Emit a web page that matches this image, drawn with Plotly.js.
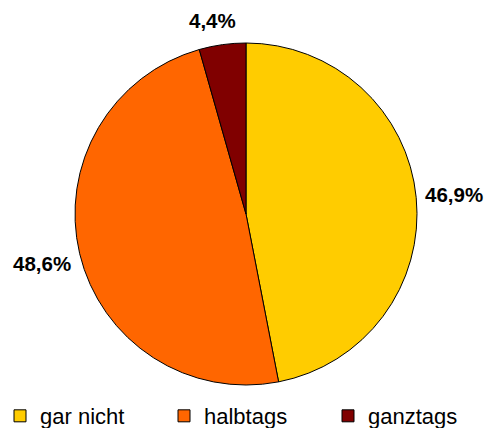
<!DOCTYPE html>
<html>
<head>
<meta charset="utf-8">
<script src="https://cdn.plot.ly/plotly-3.0.1.min.js"></script>
<style>html,body{margin:0;padding:0;background:#fff;}#chart{width:490px;height:428px;}</style>
</head>
<body>
<div id="chart"></div>
<script>
var categories = ["gar nicht", "halbtags", "ganztags"];
var values = [46.9, 48.6, 4.4];
var colors = ["#FFCC00", "#FF6600", "#800000"];

function fmt(v) { return v.toFixed(1).replace('.', ',') + '%'; }

var trace = {
  type: 'pie',
  labels: categories,
  values: values,
  sort: false,
  direction: 'clockwise',
  rotation: 0,
  textinfo: 'none',
  hoverinfo: 'label+percent',
  marker: { colors: colors, line: { color: '#000000', width: 1 } },
  domain: { x: [75/490, 417/490], y: [1 - 385/428, 1 - 43/428] }
};

var labelPos = [[0.9265, 0.5444], [0.0857, 0.3855], [0.4327, 0.951]];
var annotations = values.map(function (v, i) {
  return {
    text: '<b>' + fmt(v) + '</b>',
    x: labelPos[i][0], y: labelPos[i][1], xref: 'paper', yref: 'paper',
    xanchor: 'center', yanchor: 'middle', showarrow: false,
    font: { family: 'Liberation Sans, Arial, sans-serif', size: 20.5, color: '#000' }
  };
});

var layout = {
  width: 490, height: 428,
  margin: { l: 0, r: 0, t: 0, b: 0, autoexpand: false },
  paper_bgcolor: '#ffffff',
  font: { family: 'Liberation Sans, Arial, sans-serif', color: '#000' },
  showlegend: true,
  legend: {
    orientation: 'h', x: 0, xanchor: 'left', y: 0.028, yanchor: 'middle',
    font: { size: 22, color: '#000' },
    entrywidth: 119, entrywidthmode: 'pixels',
    traceorder: 'normal', bgcolor: 'rgba(0,0,0,0)'
  },
  annotations: annotations
};

Plotly.newPlot('chart', [trace], layout, { displayModeBar: false, staticPlot: true });
</script>
</body>
</html>
